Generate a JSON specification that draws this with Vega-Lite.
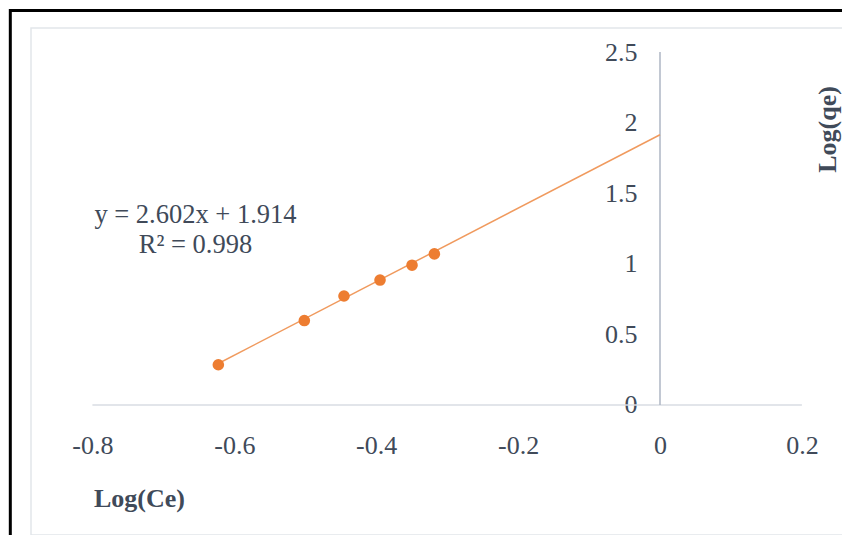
{
  "$schema": "https://vega.github.io/schema/vega-lite/v6.json",
  "width": 816,
  "height": 507,
  "autosize": {"type": "none"},
  "padding": {"left": 31, "top": 28, "right": 0, "bottom": 0},
  "background": "white",
  "config": {
    "view": {"stroke": "#e2e6ea", "strokeWidth": 1.5},
    "font": "Liberation Serif"
  },
  "datasets": {
    "points": [
      {"logCe": -0.6225, "logqe": 0.285},
      {"logCe": -0.5013, "logqe": 0.598},
      {"logCe": -0.4454, "logqe": 0.772},
      {"logCe": -0.3946, "logqe": 0.885},
      {"logCe": -0.3495, "logqe": 0.99},
      {"logCe": -0.318, "logqe": 1.07}
    ],
    "trend": [
      {"logCe": -0.6225, "logqe": 0.294},
      {"logCe": 0.0, "logqe": 1.914}
    ],
    "one": [{"label": "fit"}]
  },
  "layer": [
    {
      "data": {"name": "one"},
      "mark": {"type": "rect", "fill": null, "stroke": "black", "strokeWidth": 3},
      "encoding": {
        "x": {"datum": -0.9157, "type": "quantitative"},
        "x2": {"datum": 0.5},
        "y": {"datum": 2.794, "type": "quantitative"},
        "y2": {"datum": -1.3}
      }
    },
    {
      "data": {"name": "one"},
      "mark": {"type": "rule", "color": "#d9dde3", "strokeWidth": 1.5},
      "encoding": {
        "x": {"datum": -0.8, "type": "quantitative"},
        "x2": {"datum": 0.2},
        "y": {"datum": 0, "type": "quantitative"}
      }
    },
    {
      "data": {"name": "one"},
      "mark": {"type": "rule", "color": "#aeb6c4", "strokeWidth": 1.5},
      "encoding": {
        "x": {"datum": 0, "type": "quantitative"},
        "y": {"datum": 0, "type": "quantitative"},
        "y2": {"datum": 2.5}
      }
    },
    {
      "data": {"name": "one"},
      "mark": {
        "type": "text",
        "text": ["y = 2.602x + 1.914", "R² = 0.998"],
        "fontSize": 26.5,
        "lineHeight": 30,
        "align": "center",
        "baseline": "middle",
        "color": "#404a59"
      },
      "encoding": {
        "x": {"datum": -0.6547, "type": "quantitative"},
        "y": {"datum": 1.345, "type": "quantitative"}
      }
    },
    {
      "data": {"name": "trend"},
      "mark": {"type": "line", "color": "#F09A5E", "strokeWidth": 1.5},
      "encoding": {
        "x": {"field": "logCe", "type": "quantitative"},
        "y": {"field": "logqe", "type": "quantitative"}
      }
    },
    {
      "data": {"name": "points"},
      "mark": {"type": "point", "filled": true, "shape": "circle", "size": 135, "color": "#ED7D31", "opacity": 1},
      "encoding": {
        "x": {
          "field": "logCe",
          "type": "quantitative",
          "scale": {"domain": [-0.88654, 0.26357], "nice": false, "zero": false},
          "axis": {
            "title": "Log(Ce)",
            "values": [-0.8, -0.6, -0.4, -0.2, 0, 0.2],
            "format": "~g",
            "labelExpr": "replace(datum.label, '−', '-')",
            "domain": false,
            "ticks": false,
            "grid": false,
            "offset": -130,
            "labelFontSize": 26,
            "labelFont": "Liberation Serif",
            "labelColor": "#404a59",
            "labelBaseline": "middle",
            "labelPadding": 40,
            "labelFlush": false,
            "labelOverlap": false,
            "titleFont": "Liberation Serif",
            "titleFontSize": 26,
            "titleFontWeight": "bold",
            "titleColor": "#404a59",
            "titleX": 108,
            "titleY": 93,
            "titleAlign": "center",
            "titleBaseline": "middle"
          }
        },
        "y": {
          "field": "logqe",
          "type": "quantitative",
          "scale": {"domain": [-0.9207, 2.67], "nice": false, "zero": false},
          "axis": {
            "title": "Log(qe)",
            "values": [0, 0.5, 1, 1.5, 2, 2.5],
            "format": "~g",
            "domain": false,
            "ticks": false,
            "grid": false,
            "offset": -629,
            "labelFontSize": 26,
            "labelFont": "Liberation Serif",
            "labelColor": "#404a59",
            "labelBaseline": "middle",
            "labelPadding": 23,
            "labelFlush": false,
            "labelOverlap": false,
            "titleFont": "Liberation Serif",
            "titleFontSize": 26,
            "titleFontWeight": "bold",
            "titleColor": "#404a59",
            "titleAngle": 270,
            "titleX": 167,
            "titleY": 101,
            "titleAlign": "center",
            "titleBaseline": "middle"
          }
        }
      }
    }
  ]
}
